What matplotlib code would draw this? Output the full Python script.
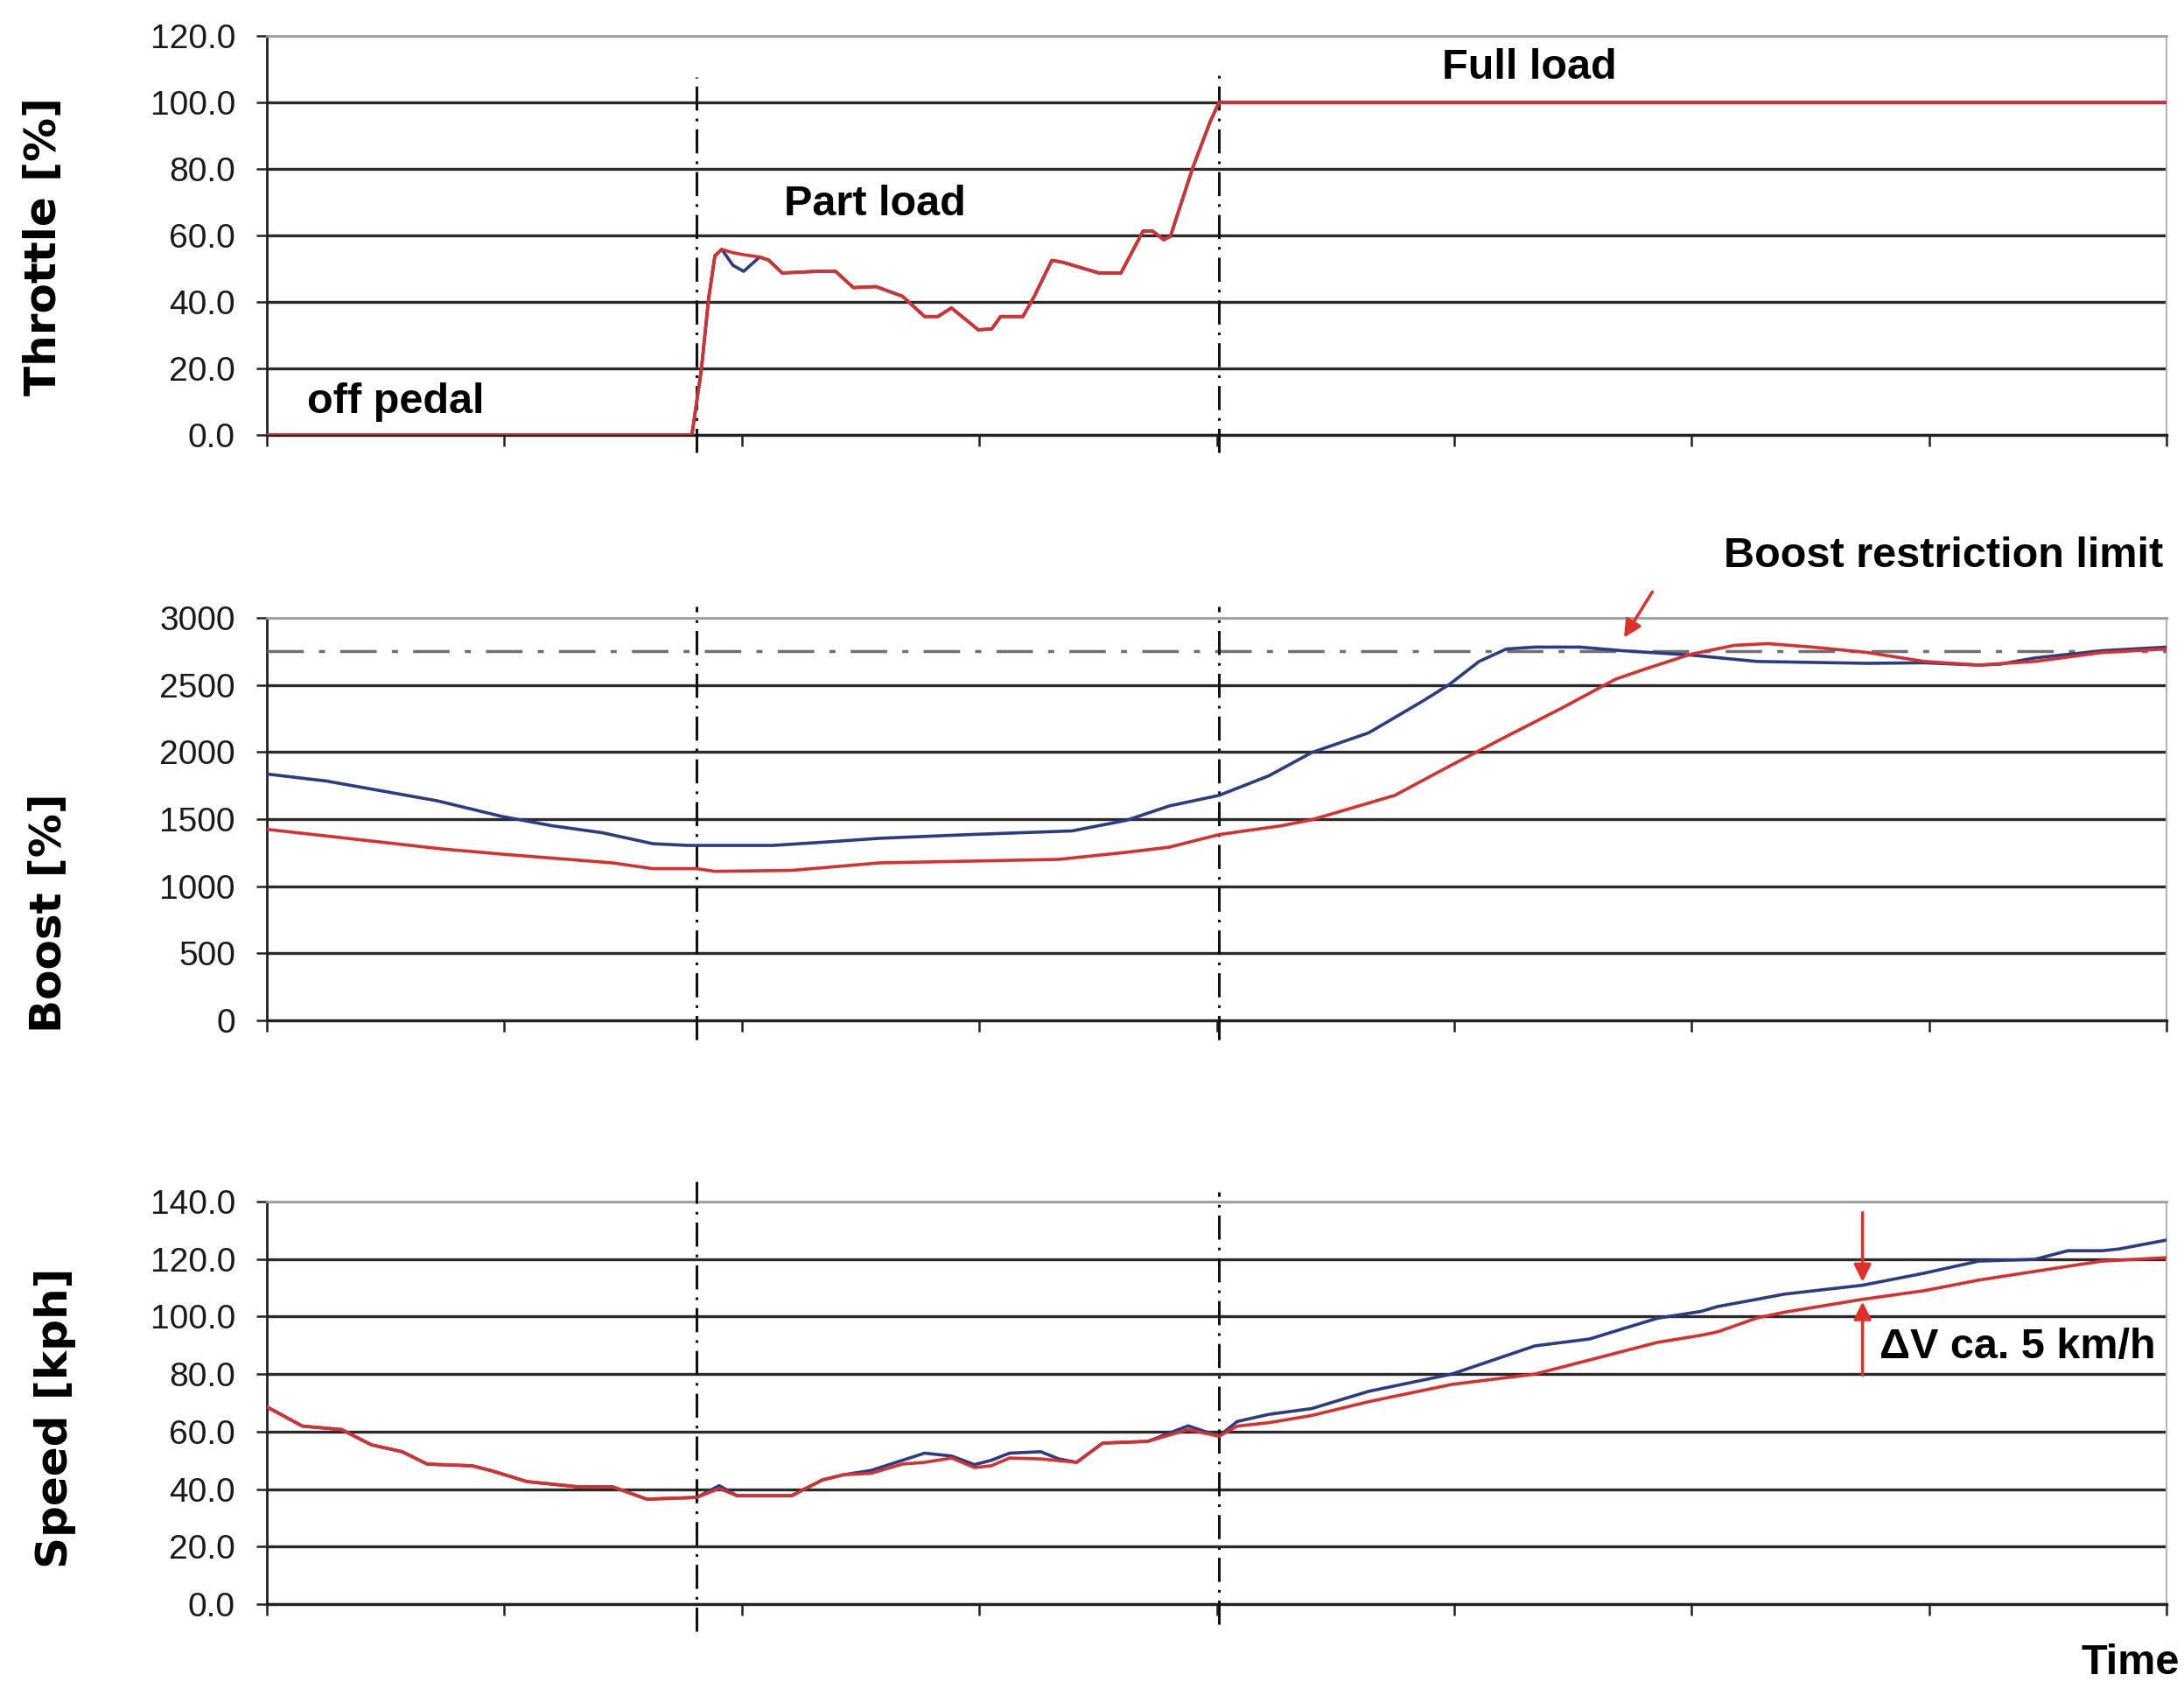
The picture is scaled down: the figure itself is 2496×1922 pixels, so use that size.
import numpy as np
import matplotlib
matplotlib.use('Agg')
import matplotlib.pyplot as plt
from matplotlib.ticker import FormatStrFormatter

# ---- data (time axis in tick units 0..8) ----
thr_x = [0.0, 1.79, 1.83, 1.86, 1.887, 1.916, 1.963, 2.008, 2.075, 2.113, 2.17, 2.32, 2.395,
         2.47, 2.565, 2.677, 2.77, 2.826, 2.883, 2.996, 3.053, 3.09, 3.184, 3.232, 3.306,
         3.353, 3.504, 3.597, 3.69, 3.73, 3.777, 3.805, 3.898, 3.972, 4.01, 8.0]
thr_red = [0.0, 0.0, 19.8, 40.8, 53.9, 55.8, 54.8, 54.2, 53.5, 52.6, 48.7, 49.2, 49.2,
           44.3, 44.6, 41.7, 35.6, 35.6, 38.2, 31.6, 31.9, 35.6, 35.6, 41.7, 52.5,
           51.9, 48.7, 48.7, 61.3, 61.3, 58.7, 59.7, 80.1, 94.1, 100.0, 100.0]
thr_blue = [0.0, 0.0, 19.8, 40.8, 53.9, 55.8, 51.0, 49.2, 53.5, 52.6, 48.7, 49.2, 49.2,
            44.3, 44.6, 41.7, 35.6, 35.6, 38.2, 31.6, 31.9, 35.6, 35.6, 41.7, 52.5,
            51.9, 48.7, 48.7, 61.3, 61.3, 58.7, 59.7, 80.1, 94.1, 100.0, 100.0]

boost_x_blue = [0.0, 0.25, 0.716, 0.99, 1.2, 1.414, 1.625, 1.773, 2.13, 2.36, 2.58, 2.96,
                3.39, 3.62, 3.80, 4.01, 4.22, 4.40, 4.64, 4.87, 4.98, 5.105, 5.22, 5.34,
                5.53, 5.71, 5.995, 6.275, 6.74, 6.98, 7.21, 7.30, 7.445, 7.73, 8.0]
boost_blue = [1836, 1784, 1637, 1520, 1451, 1398, 1317, 1304, 1304, 1330, 1357, 1385,
              1412, 1491, 1598, 1677, 1823, 1996, 2143, 2382, 2504, 2675, 2768, 2782,
              2782, 2755, 2723, 2675, 2661, 2665, 2648, 2655, 2701, 2755, 2782]
boost_x_red = [0.0, 0.737, 0.99, 1.455, 1.625, 1.81, 1.886, 2.21, 2.58, 3.335, 3.616, 3.80,
               4.01, 4.27, 4.40, 4.75, 4.99, 5.22, 5.455, 5.68, 5.81, 5.995, 6.18, 6.32,
               6.51, 6.74, 6.98, 7.21, 7.445, 7.73, 8.0]
boost_red = [1424, 1278, 1239, 1174, 1131, 1131, 1111, 1118, 1174, 1200, 1252, 1291,
             1385, 1450, 1495, 1677, 1904, 2116, 2329, 2543, 2622, 2728, 2795, 2808,
             2782, 2742, 2675, 2648, 2675, 2742, 2768]
boost_limit = 2750

spd_x = [0.0, 0.15, 0.315, 0.44, 0.57, 0.675, 0.865, 0.95, 1.096, 1.31, 1.456, 1.60, 1.81,
         1.905, 1.98, 2.21, 2.34, 2.43, 2.545, 2.676, 2.77, 2.884, 2.98, 3.05, 3.128, 3.259,
         3.335, 3.41, 3.52, 3.71, 3.88, 4.01, 4.086, 4.22, 4.40, 4.64, 4.99, 5.34, 5.57,
         5.855, 6.04, 6.11, 6.275, 6.39, 6.72, 6.98, 7.21, 7.445, 7.585, 7.73, 7.80, 8.0]
spd_red = [68.6, 61.9, 60.7, 55.4, 53.0, 48.7, 48.1, 46.3, 42.6, 40.8, 40.8, 36.5, 37.1,
           40.2, 37.7, 37.7, 43.2, 45.0, 45.5, 48.7, 49.3, 50.8, 47.5, 48.1, 50.8, 50.5,
           49.9, 49.3, 56.0, 56.6, 60.7, 58.4, 61.9, 63.1, 65.6, 70.4, 76.4, 80.0, 84.9,
           91.0, 93.5, 94.7, 99.5, 101.5, 106.0, 109.0, 112.7, 115.7, 117.5, 119.3, 119.6, 120.5]
spd_blue = [68.6, 61.9, 60.7, 55.4, 53.0, 48.7, 48.1, 46.3, 42.6, 40.8, 40.8, 36.5, 37.1,
            41.2, 37.7, 37.7, 43.2, 45.0, 46.5, 50.0, 52.5, 51.5, 48.5, 50.0, 52.5, 53.0,
            50.5, 49.3, 56.0, 56.6, 62.0, 58.4, 63.5, 66.0, 68.0, 74.0, 80.0, 89.8, 92.2,
            99.4, 101.8, 103.5, 106.0, 107.8, 110.9, 115.1, 119.3, 119.9, 122.9, 122.9, 123.5, 126.6]

phase_x = [1.81, 4.01]

RED = '#d8302f'
BLUE = '#2b3b85'
ANN_RED = '#e0302a'

W, H = 2496, 1922
fig = plt.figure(figsize=(W / 100, H / 100), dpi=100)

left = 305 / W
width = (2476 - 305) / W
panels = [(41, 497), (706, 1166), (1373, 1833)]
axes = []
for top, bot in panels:
    axes.append(fig.add_axes([left, 1 - bot / H, width, (bot - top) / H]))


def style(ax, yticks, fmt):
    ax.set_xlim(0, 8)
    ax.set_ylim(yticks[0], yticks[-1])
    ax.set_xticks(range(9))
    ax.set_xticklabels([])
    ax.set_yticks(yticks)
    ax.yaxis.set_major_formatter(FormatStrFormatter(fmt))
    ax.tick_params(axis='both', direction='out', length=9, width=1.8, colors='#222222')
    ax.tick_params(axis='y', labelsize=28, pad=17, labelcolor='#1a1a1a')
    for lab in ax.get_yticklabels():
        lab.set_family('Liberation Sans')
    ax.grid(axis='y', color='#2a2a2a', lw=2.4)
    ax.grid(axis='x', visible=False)
    ax.yaxis.get_gridlines()[-1].set_color('#a0a0a0')
    ax.spines['left'].set_color('#222222')
    ax.spines['left'].set_linewidth(2)
    ax.spines['bottom'].set_color('#222222')
    ax.spines['bottom'].set_linewidth(2.4)
    ax.spines['top'].set_color('#a0a0a0')
    ax.spines['top'].set_linewidth(2)
    ax.spines['right'].set_color('#b5b5b5')
    ax.spines['right'].set_linewidth(1.5)
    ax.set_axisbelow(True)


ax1, ax2, ax3 = axes
style(ax1, np.arange(0, 121, 20), '%.1f')
style(ax2, np.arange(0, 3001, 500), '%d')
style(ax3, np.arange(0, 141, 20), '%.1f')

vstyle = dict(color='#111111', lw=2.2, ls=(0, (9, 3, 1, 3)), clip_on=False, zorder=3)

# throttle
ax1.plot(thr_x, thr_blue, color=BLUE, lw=2.6, zorder=4)
ax1.plot(thr_x, thr_red, color=RED, lw=2.6, zorder=5)
ax1.plot([phase_x[0]] * 2, [-5.3, 107.6], **vstyle)
ax1.plot([phase_x[1]] * 2, [-5.3, 108.6], **vstyle)
tfont = dict(family='Liberation Sans', weight='bold', size=35, color='black')
ax1.text(0.17, 6.7, 'off pedal', va='baseline', ha='left', **tfont)
ax1.text(2.178, 66.1, 'Part load', va='baseline', ha='left', **tfont)
ax1.text(4.95, 107.2, 'Full load', va='baseline', ha='left', **tfont)

# boost
ax2.axhline(boost_limit, color='#707070', lw=2.5, ls=(0, (12, 5, 2, 5)), zorder=3)
ax2.plot(boost_x_blue, boost_blue, color=BLUE, lw=2.6, zorder=4)
ax2.plot(boost_x_red, boost_red, color=RED, lw=2.6, zorder=5)
for px in phase_x:
    ax2.plot([px] * 2, [-143, 3085], **vstyle)
ax2.text(6.135, 3380, 'Boost restriction limit', va='baseline', ha='left',
         clip_on=False, **tfont)
ax2.annotate('', xy=(5.71, 2837), xytext=(5.84, 3209), annotation_clip=False,
             arrowprops=dict(arrowstyle='-|>', color=ANN_RED, lw=2.5, mutation_scale=30))

# speed
ax3.plot(spd_x, spd_blue, color=BLUE, lw=2.6, zorder=4)
ax3.plot(spd_x, spd_red, color=RED, lw=2.6, zorder=5)
ax3.plot([phase_x[0]] * 2, [-9.4, 147], **vstyle)
ax3.plot([phase_x[1]] * 2, [-7, 143.5], **vstyle)
ax3.annotate('', xy=(6.72, 111.2), xytext=(6.72, 137), annotation_clip=False,
             arrowprops=dict(arrowstyle='-|>', color=ANN_RED, lw=2.5, mutation_scale=30))
ax3.annotate('', xy=(6.72, 106), xytext=(6.72, 78.8), annotation_clip=False,
             arrowprops=dict(arrowstyle='-|>', color=ANN_RED, lw=2.5, mutation_scale=30))
ax3.text(6.79, 85.5, '\u0394V ca. 5 km/h', va='baseline', ha='left', clip_on=False, **tfont)
ax3.text(8.055, -24.3, 'Time', va='baseline', ha='right', clip_on=False, **tfont)

# y axis titles
lfont = dict(family='DejaVu Sans', weight='bold', size=36, color='black',
             rotation=90, ha='center', va='center')
fig.text(50 / W, 1 - 282 / H, 'Throttle [%]', **lfont)
fig.text(56 / W, 1 - 1043 / H, 'Boost [%]', **lfont)
fig.text(63 / W, 1 - 1620 / H, 'Speed [kph]', **lfont)

fig.savefig('out.png', dpi=100, facecolor='white')
